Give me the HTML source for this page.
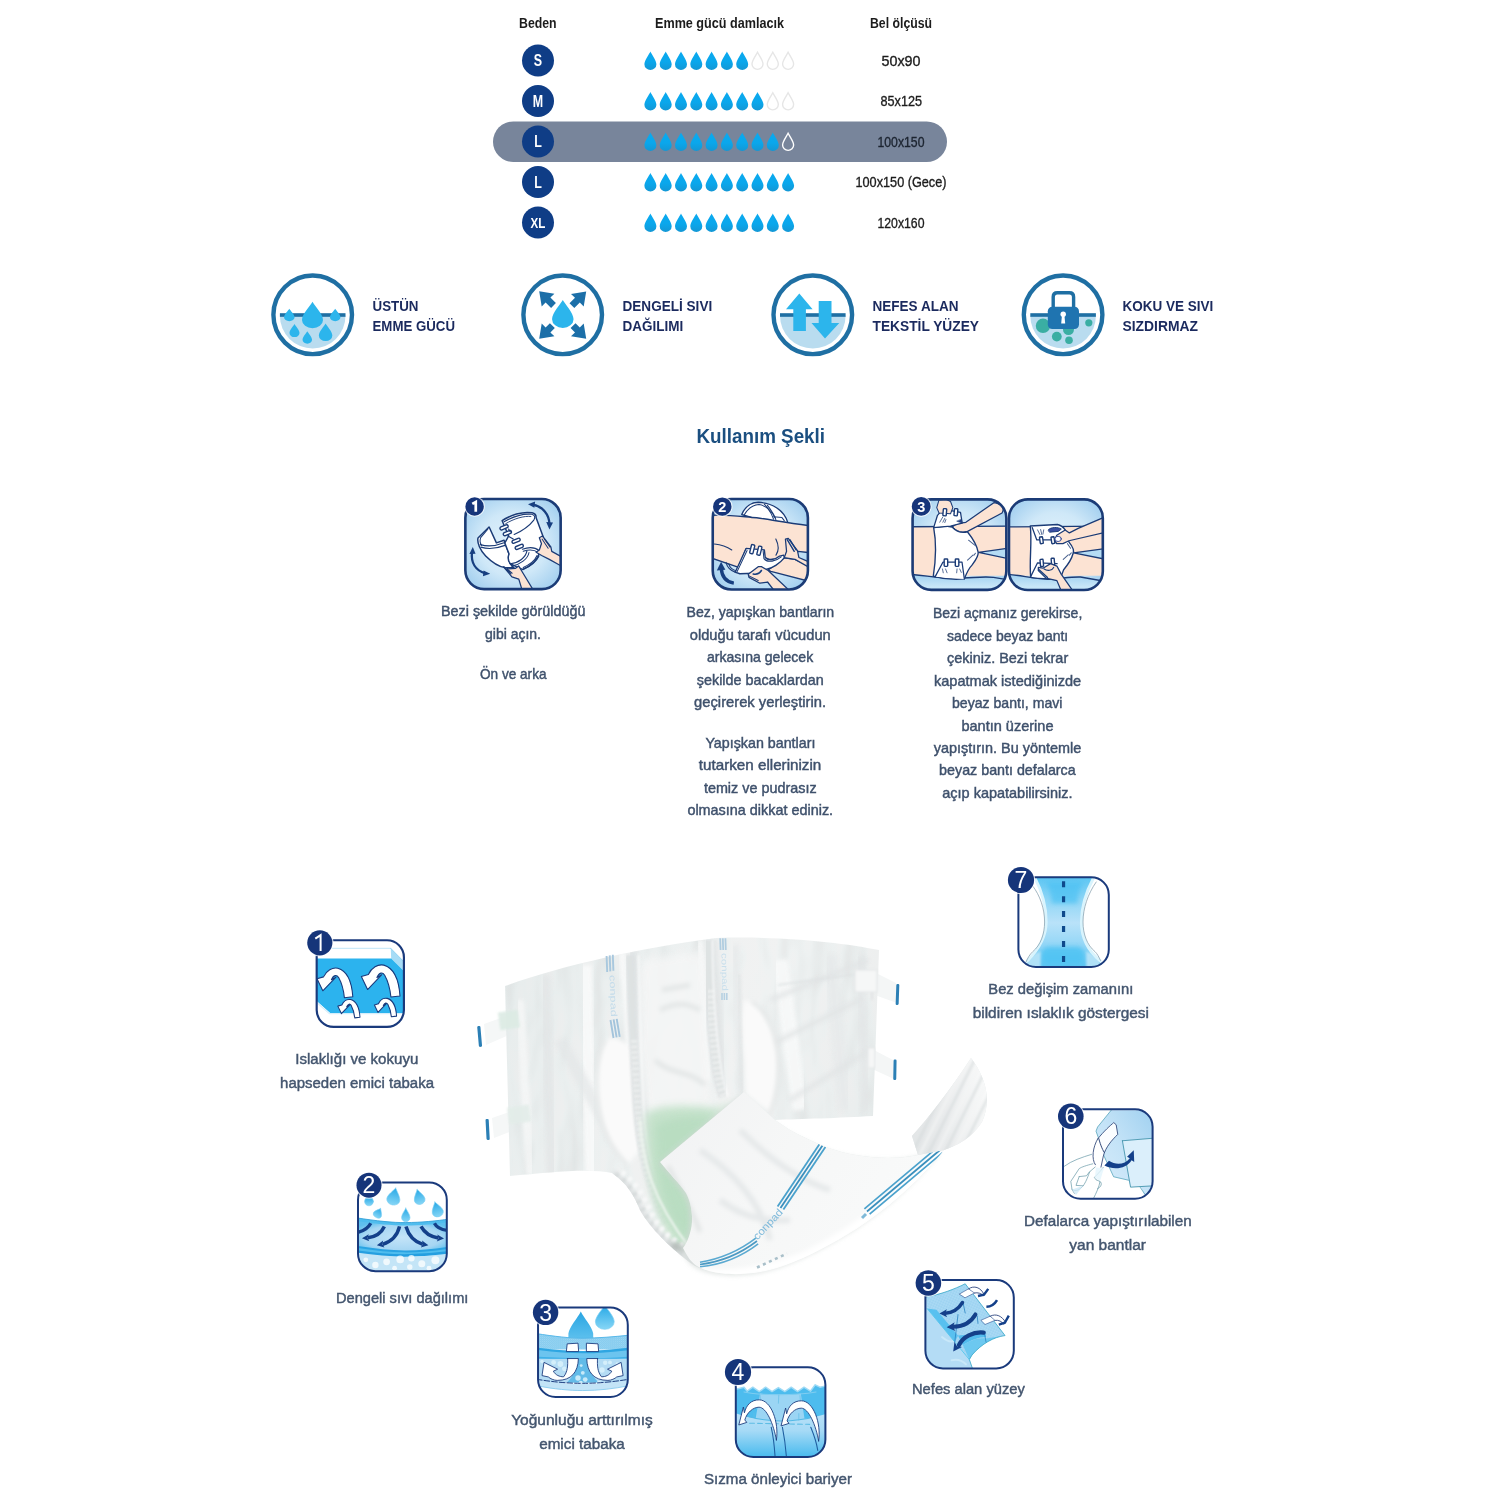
<!DOCTYPE html>
<html><head><meta charset="utf-8"><title>Conpad</title>
<style>
html,body{margin:0;padding:0;background:#fff;}
body{width:1500px;height:1500px;overflow:hidden;font-family:"Liberation Sans", sans-serif;}
svg{display:block;font-family:"Liberation Sans", sans-serif;}
svg text{font-family:"Liberation Sans", sans-serif;}
</style></head>
<body>
<svg width="1500" height="1500" viewBox="0 0 1500 1500">
<rect width="1500" height="1500" fill="#ffffff"/>
<defs>
<path id="drop" d="M0 -9.2 C-1.2 -6.6 -6 -0.2 -6 3.4 A6 5.9 0 0 0 6 3.4 C6 -0.2 1.2 -6.6 0 -9.2 Z"/>
<path id="udrop" d="M0 -1 C-0.1 -0.75 -0.62 -0.08 -0.62 0.36 A0.62 0.62 0 0 0 0.62 0.36 C0.62 -0.08 0.1 -0.75 0 -1 Z"/>
<radialGradient id="boxbg" cx="50%" cy="50%" r="65%">
 <stop offset="0" stop-color="#e4f3fc"/><stop offset="0.55" stop-color="#cfe8f8"/><stop offset="1" stop-color="#9fcdee"/>
</radialGradient>
</defs>
<defs><linearGradient id="dropfill" x1="0" y1="0" x2="0" y2="1"><stop offset="0" stop-color="#0aa9ef"/><stop offset="0.55" stop-color="#0aa7ec"/><stop offset="1" stop-color="#1497d4"/></linearGradient></defs>
<g id="table">
<text x="519.0" y="27.6" font-size="14" font-weight="bold" fill="#1c1c1c" textLength="37.6" lengthAdjust="spacingAndGlyphs" >Beden</text>
<text x="655.0" y="27.6" font-size="14" font-weight="bold" fill="#1c1c1c" textLength="129.0" lengthAdjust="spacingAndGlyphs" >Emme gücü damlacık</text>
<text x="870.0" y="27.6" font-size="14" font-weight="bold" fill="#1c1c1c" textLength="62.0" lengthAdjust="spacingAndGlyphs" >Bel ölçüsü</text>
<rect x="493" y="121.4" width="454" height="40.6" rx="20.3" fill="#78859b"/>
<circle cx="538" cy="60.5" r="16" fill="#0f3d86"/>
<text transform="translate(538 66.0) scale(0.86 1.08)" font-size="14.5" font-weight="bold" fill="#fff" text-anchor="middle">S</text>
<use href="#drop" x="650.4" y="60.8" fill="url(#dropfill)"/>
<use href="#drop" x="665.7" y="60.8" fill="url(#dropfill)"/>
<use href="#drop" x="681.0" y="60.8" fill="url(#dropfill)"/>
<use href="#drop" x="696.3" y="60.8" fill="url(#dropfill)"/>
<use href="#drop" x="711.6" y="60.8" fill="url(#dropfill)"/>
<use href="#drop" x="726.9" y="60.8" fill="url(#dropfill)"/>
<use href="#drop" x="742.2" y="60.8" fill="url(#dropfill)"/>
<use href="#drop" x="757.5" y="60.8" fill="none" stroke="#e6e6e6" stroke-width="1.5" transform="translate(60.60 4.86) scale(0.92)"/>
<use href="#drop" x="772.8" y="60.8" fill="none" stroke="#e6e6e6" stroke-width="1.5" transform="translate(61.82 4.86) scale(0.92)"/>
<use href="#drop" x="788.1" y="60.8" fill="none" stroke="#e6e6e6" stroke-width="1.5" transform="translate(63.05 4.86) scale(0.92)"/>
<text x="881.5" y="65.8" font-size="14.5" font-weight="normal" fill="#1c1c1c" textLength="39.0" lengthAdjust="spacingAndGlyphs" stroke="#1c1c1c" stroke-width="0.35">50x90</text>
<circle cx="538" cy="101" r="16" fill="#0f3d86"/>
<text transform="translate(538 106.5) scale(0.86 1.08)" font-size="14.5" font-weight="bold" fill="#fff" text-anchor="middle">M</text>
<use href="#drop" x="650.4" y="101.3" fill="url(#dropfill)"/>
<use href="#drop" x="665.7" y="101.3" fill="url(#dropfill)"/>
<use href="#drop" x="681.0" y="101.3" fill="url(#dropfill)"/>
<use href="#drop" x="696.3" y="101.3" fill="url(#dropfill)"/>
<use href="#drop" x="711.6" y="101.3" fill="url(#dropfill)"/>
<use href="#drop" x="726.9" y="101.3" fill="url(#dropfill)"/>
<use href="#drop" x="742.2" y="101.3" fill="url(#dropfill)"/>
<use href="#drop" x="757.5" y="101.3" fill="url(#dropfill)"/>
<use href="#drop" x="772.8" y="101.3" fill="none" stroke="#e6e6e6" stroke-width="1.5" transform="translate(61.82 8.10) scale(0.92)"/>
<use href="#drop" x="788.1" y="101.3" fill="none" stroke="#e6e6e6" stroke-width="1.5" transform="translate(63.05 8.10) scale(0.92)"/>
<text x="880.5" y="106.3" font-size="14.5" font-weight="normal" fill="#1c1c1c" textLength="41.5" lengthAdjust="spacingAndGlyphs" stroke="#1c1c1c" stroke-width="0.35">85x125</text>
<circle cx="538" cy="141.5" r="16" fill="#0f3d86"/>
<text transform="translate(538 147.0) scale(0.86 1.08)" font-size="14.5" font-weight="bold" fill="#fff" text-anchor="middle">L</text>
<use href="#drop" x="650.4" y="141.8" fill="url(#dropfill)"/>
<use href="#drop" x="665.7" y="141.8" fill="url(#dropfill)"/>
<use href="#drop" x="681.0" y="141.8" fill="url(#dropfill)"/>
<use href="#drop" x="696.3" y="141.8" fill="url(#dropfill)"/>
<use href="#drop" x="711.6" y="141.8" fill="url(#dropfill)"/>
<use href="#drop" x="726.9" y="141.8" fill="url(#dropfill)"/>
<use href="#drop" x="742.2" y="141.8" fill="url(#dropfill)"/>
<use href="#drop" x="757.5" y="141.8" fill="url(#dropfill)"/>
<use href="#drop" x="772.8" y="141.8" fill="url(#dropfill)"/>
<use href="#drop" x="788.1" y="141.8" fill="none" stroke="#ffffff" stroke-width="1.5" transform="translate(63.05 11.34) scale(0.92)"/>
<text x="877.5" y="146.8" font-size="14.5" font-weight="normal" fill="#1c2430" textLength="47.0" lengthAdjust="spacingAndGlyphs" stroke="#1c2430" stroke-width="0.35">100x150</text>
<circle cx="538" cy="182" r="16" fill="#0f3d86"/>
<text transform="translate(538 187.5) scale(0.86 1.08)" font-size="14.5" font-weight="bold" fill="#fff" text-anchor="middle">L</text>
<use href="#drop" x="650.4" y="182.3" fill="url(#dropfill)"/>
<use href="#drop" x="665.7" y="182.3" fill="url(#dropfill)"/>
<use href="#drop" x="681.0" y="182.3" fill="url(#dropfill)"/>
<use href="#drop" x="696.3" y="182.3" fill="url(#dropfill)"/>
<use href="#drop" x="711.6" y="182.3" fill="url(#dropfill)"/>
<use href="#drop" x="726.9" y="182.3" fill="url(#dropfill)"/>
<use href="#drop" x="742.2" y="182.3" fill="url(#dropfill)"/>
<use href="#drop" x="757.5" y="182.3" fill="url(#dropfill)"/>
<use href="#drop" x="772.8" y="182.3" fill="url(#dropfill)"/>
<use href="#drop" x="788.1" y="182.3" fill="url(#dropfill)"/>
<text x="855.5" y="187.3" font-size="14.5" font-weight="normal" fill="#1c1c1c" textLength="91.0" lengthAdjust="spacingAndGlyphs" stroke="#1c1c1c" stroke-width="0.35">100x150 (Gece)</text>
<circle cx="538" cy="222.5" r="16" fill="#0f3d86"/>
<text transform="translate(538 228.0) scale(0.86 1.08)" font-size="13.5" font-weight="bold" fill="#fff" text-anchor="middle">XL</text>
<use href="#drop" x="650.4" y="222.8" fill="url(#dropfill)"/>
<use href="#drop" x="665.7" y="222.8" fill="url(#dropfill)"/>
<use href="#drop" x="681.0" y="222.8" fill="url(#dropfill)"/>
<use href="#drop" x="696.3" y="222.8" fill="url(#dropfill)"/>
<use href="#drop" x="711.6" y="222.8" fill="url(#dropfill)"/>
<use href="#drop" x="726.9" y="222.8" fill="url(#dropfill)"/>
<use href="#drop" x="742.2" y="222.8" fill="url(#dropfill)"/>
<use href="#drop" x="757.5" y="222.8" fill="url(#dropfill)"/>
<use href="#drop" x="772.8" y="222.8" fill="url(#dropfill)"/>
<use href="#drop" x="788.1" y="222.8" fill="url(#dropfill)"/>
<text x="877.5" y="227.8" font-size="14.5" font-weight="normal" fill="#1c1c1c" textLength="47.0" lengthAdjust="spacingAndGlyphs" stroke="#1c1c1c" stroke-width="0.35">120x160</text>
</g>
<g id="features">
<circle cx="312.7" cy="314.8" r="39.3" fill="#fff" stroke="#1f6fa3" stroke-width="4.4"/>
<path d="M279.9 315.8 A32.8 32.8 0 0 0 345.5 315.8 Z" fill="#b9dcef"/><rect x="279.9" y="313.2" width="65.6" height="3.6" fill="#1f6fa3"/>
<use href="#udrop" transform="translate(289.30 315.06) scale(8.468 6.313)" fill="#2cb5ec"/>
<use href="#udrop" transform="translate(335.20 315.06) scale(8.468 6.313)" fill="#2cb5ec"/>
<use href="#udrop" transform="translate(312.50 315.13) scale(16.935 13.384)" fill="#2cb5ec"/>
<use href="#udrop" transform="translate(294.50 330.67) scale(8.065 6.566)" fill="#2cb5ec"/>
<use href="#udrop" transform="translate(307.30 337.56) scale(7.661 6.313)" fill="#2cb5ec"/>
<use href="#udrop" transform="translate(325.60 332.39) scale(10.887 8.838)" fill="#2cb5ec"/>
<text x="372.5" y="311.2" font-size="14.6" font-weight="bold" fill="#1b2a5e" textLength="46.0" lengthAdjust="spacingAndGlyphs" >ÜSTÜN</text>
<text x="372.5" y="330.8" font-size="14.6" font-weight="bold" fill="#1b2a5e" textLength="82.5" lengthAdjust="spacingAndGlyphs" >EMME GÜCÜ</text>
<circle cx="562.7" cy="314.8" r="39.3" fill="#fff" stroke="#1f6fa3" stroke-width="4.4"/>
<use href="#udrop" transform="translate(562.80 314.14) scale(17.339 14.040)" fill="#2cb5ec"/>
<polygon points="539.2,291.2 554.4,293.7 550.4,297.6 555.9,303.1 551.1,307.9 545.6,302.4 541.7,306.4" fill="#1c6fa8"/>
<polygon points="586.2,291.4 583.7,306.6 579.8,302.6 574.3,308.1 569.5,303.3 575.0,297.8 571.0,293.9" fill="#1c6fa8"/>
<polygon points="539.2,338.8 541.7,323.6 545.6,327.6 549.9,323.2 554.8,328.1 550.4,332.4 554.4,336.3" fill="#1c6fa8"/>
<polygon points="586.2,338.8 571.0,336.3 575.0,332.4 570.6,328.1 575.5,323.2 579.8,327.6 583.7,323.6" fill="#1c6fa8"/>
<text x="622.5" y="311.2" font-size="14.6" font-weight="bold" fill="#1b2a5e" textLength="89.7" lengthAdjust="spacingAndGlyphs" >DENGELİ SIVI</text>
<text x="622.5" y="330.8" font-size="14.6" font-weight="bold" fill="#1b2a5e" textLength="60.8" lengthAdjust="spacingAndGlyphs" >DAĞILIMI</text>
<circle cx="812.8" cy="314.8" r="39.3" fill="#fff" stroke="#1f6fa3" stroke-width="4.4"/>
<path d="M780.0 315.8 A32.8 32.8 0 0 0 845.5999999999999 315.8 Z" fill="#b9dcef"/><rect x="780.0" y="313.2" width="65.6" height="3.6" fill="#1f6fa3"/>
<polygon points="799.3,293.4 812.6,309.2 805.9,309.2 805.9,330.9 793.3,330.9 793.3,309.2 786,309.2" fill="#2cb5ec"/>
<polygon points="818.7,301 831.5,301 831.5,323 839.3,323 825,338.6 811.5,323 818.7,323" fill="#2cb5ec"/>
<text x="872.5" y="311.2" font-size="14.6" font-weight="bold" fill="#1b2a5e" textLength="86.0" lengthAdjust="spacingAndGlyphs" >NEFES ALAN</text>
<text x="872.5" y="330.8" font-size="14.6" font-weight="bold" fill="#1b2a5e" textLength="106.5" lengthAdjust="spacingAndGlyphs" >TEKSTİL YÜZEY</text>
<circle cx="1063.1" cy="314.8" r="39.3" fill="#fff" stroke="#1f6fa3" stroke-width="4.4"/>
<path d="M1030.3 315.8 A32.8 32.8 0 0 0 1095.8999999999999 315.8 Z" fill="#b9dcef"/><rect x="1030.3" y="313.2" width="65.6" height="3.6" fill="#1f6fa3"/>
<circle cx="1043" cy="325.8" r="7.2" fill="#3aaea3"/>
<circle cx="1068.5" cy="329.5" r="5.5" fill="#3aaea3"/>
<circle cx="1056.8" cy="336.6" r="4.9" fill="#3aaea3"/>
<circle cx="1069" cy="340.2" r="3.8" fill="#3aaea3"/>
<circle cx="1088.8" cy="322.8" r="3.6" fill="#3aaea3"/>
<path d="M1053.2 308 V297 Q1053.2 292.8 1057.4 292.8 H1069.4 Q1073.6 292.8 1073.6 297 V308" fill="none" stroke="#1f6fa3" stroke-width="3.4"/>
<rect x="1047.8" y="306.8" width="31.2" height="22.2" rx="4.5" fill="#1f74b0"/>
<circle cx="1063.2" cy="314.2" r="2.7" fill="#fff"/>
<path d="M1062 315 L1061.2 323.6 H1065.2 L1064.4 315 Z" fill="#fff"/>
<text x="1122.5" y="311.2" font-size="14.6" font-weight="bold" fill="#1b2a5e" textLength="90.8" lengthAdjust="spacingAndGlyphs" >KOKU VE SIVI</text>
<text x="1122.5" y="330.8" font-size="14.6" font-weight="bold" fill="#1b2a5e" textLength="75.5" lengthAdjust="spacingAndGlyphs" >SIZDIRMAZ</text>
</g>
<g id="usage">
<text x="696.5" y="443.3" font-size="21" font-weight="bold" fill="#1b4f80" textLength="128.5" lengthAdjust="spacingAndGlyphs" >Kullanım Şekli</text>
<text x="441.0" y="616.4" font-size="15" font-weight="normal" fill="#3f516c" textLength="144.5" lengthAdjust="spacingAndGlyphs" stroke="#3f516c" stroke-width="0.45">Bezi şekilde görüldüğü</text>
<text x="485.0" y="639.0" font-size="15" font-weight="normal" fill="#3f516c" textLength="56.0" lengthAdjust="spacingAndGlyphs" stroke="#3f516c" stroke-width="0.45">gibi açın.</text>
<text x="480.0" y="679.3" font-size="15" font-weight="normal" fill="#3f516c" textLength="66.5" lengthAdjust="spacingAndGlyphs" stroke="#3f516c" stroke-width="0.45">Ön ve arka</text>
<text x="686.6" y="616.9" font-size="15" font-weight="normal" fill="#3f516c" textLength="147.6" lengthAdjust="spacingAndGlyphs" stroke="#3f516c" stroke-width="0.45">Bez, yapışkan bantların</text>
<text x="689.8" y="639.6" font-size="15" font-weight="normal" fill="#3f516c" textLength="140.9" lengthAdjust="spacingAndGlyphs" stroke="#3f516c" stroke-width="0.45">olduğu tarafı vücudun</text>
<text x="707.0" y="662.1" font-size="15" font-weight="normal" fill="#3f516c" textLength="106.2" lengthAdjust="spacingAndGlyphs" stroke="#3f516c" stroke-width="0.45">arkasına gelecek</text>
<text x="696.8" y="684.7" font-size="15" font-weight="normal" fill="#3f516c" textLength="126.9" lengthAdjust="spacingAndGlyphs" stroke="#3f516c" stroke-width="0.45">şekilde bacaklardan</text>
<text x="694.1" y="707.2" font-size="15" font-weight="normal" fill="#3f516c" textLength="131.9" lengthAdjust="spacingAndGlyphs" stroke="#3f516c" stroke-width="0.45">geçirerek yerleştirin.</text>
<text x="705.4" y="747.7" font-size="15" font-weight="normal" fill="#3f516c" textLength="110.0" lengthAdjust="spacingAndGlyphs" stroke="#3f516c" stroke-width="0.45">Yapışkan bantları</text>
<text x="698.8" y="770.3" font-size="15" font-weight="normal" fill="#3f516c" textLength="122.5" lengthAdjust="spacingAndGlyphs" stroke="#3f516c" stroke-width="0.45">tutarken ellerinizin</text>
<text x="703.9" y="792.8" font-size="15" font-weight="normal" fill="#3f516c" textLength="112.7" lengthAdjust="spacingAndGlyphs" stroke="#3f516c" stroke-width="0.45">temiz ve pudrasız</text>
<text x="687.4" y="815.2" font-size="15" font-weight="normal" fill="#3f516c" textLength="145.7" lengthAdjust="spacingAndGlyphs" stroke="#3f516c" stroke-width="0.45">olmasına dikkat ediniz.</text>
<text x="932.9" y="618.2" font-size="15" font-weight="normal" fill="#3f516c" textLength="149.4" lengthAdjust="spacingAndGlyphs" stroke="#3f516c" stroke-width="0.45">Bezi açmanız gerekirse,</text>
<text x="947.0" y="640.7" font-size="15" font-weight="normal" fill="#3f516c" textLength="121.2" lengthAdjust="spacingAndGlyphs" stroke="#3f516c" stroke-width="0.45">sadece beyaz bantı</text>
<text x="947.0" y="663.3" font-size="15" font-weight="normal" fill="#3f516c" textLength="121.2" lengthAdjust="spacingAndGlyphs" stroke="#3f516c" stroke-width="0.45">çekiniz. Bezi tekrar</text>
<text x="934.0" y="685.8" font-size="15" font-weight="normal" fill="#3f516c" textLength="147.2" lengthAdjust="spacingAndGlyphs" stroke="#3f516c" stroke-width="0.45">kapatmak istediğinizde</text>
<text x="952.0" y="708.2" font-size="15" font-weight="normal" fill="#3f516c" textLength="110.4" lengthAdjust="spacingAndGlyphs" stroke="#3f516c" stroke-width="0.45">beyaz bantı, mavi</text>
<text x="961.4" y="730.6" font-size="15" font-weight="normal" fill="#3f516c" textLength="92.1" lengthAdjust="spacingAndGlyphs" stroke="#3f516c" stroke-width="0.45">bantın üzerine</text>
<text x="933.7" y="753.0" font-size="15" font-weight="normal" fill="#3f516c" textLength="147.5" lengthAdjust="spacingAndGlyphs" stroke="#3f516c" stroke-width="0.45">yapıştırın. Bu yöntemle</text>
<text x="939.1" y="775.4" font-size="15" font-weight="normal" fill="#3f516c" textLength="136.6" lengthAdjust="spacingAndGlyphs" stroke="#3f516c" stroke-width="0.45">beyaz bantı defalarca</text>
<text x="942.3" y="797.8" font-size="15" font-weight="normal" fill="#3f516c" textLength="130.3" lengthAdjust="spacingAndGlyphs" stroke="#3f516c" stroke-width="0.45">açıp kapatabilirsiniz.</text>
</g>
<g id="steps">
<g transform="translate(455 490) scale(0.07667)"><clipPath id="cp1"><rect x="135.0" y="117.0" width="1243.0" height="1176.0" rx="245.0"/></clipPath><rect x="135.0" y="117.0" width="1243.0" height="1176.0" rx="245.0" fill="url(#boxbg)"/><g clip-path="url(#cp1)" stroke-linejoin="round" stroke-linecap="round"><path d="M445 482 L300 625 C285 690 330 790 400 860 C480 940 580 1000 650 1012 L770 1015 C700 960 690 900 705 835 L640 655 L540 690 Z" fill="#fff" stroke="#1b3b76" stroke-width="19.5" /><path d="M428 512 L335 622 C322 660 330 700 346 722" fill="none" stroke="#1b3b76" stroke-width="13.5" /><path d="M330 712 C430 742 530 732 640 688" fill="none" stroke="#1b3b76" stroke-width="15.0" /><path d="M338 745 C430 775 540 765 652 722" fill="none" stroke="#1b3b76" stroke-width="15.0" /><path d="M615 400 C720 330 880 275 1005 298 C1045 308 1060 335 1058 362 L1150 610 L1112 800 C1080 900 1000 990 880 1035 L800 1000 L720 960 C690 920 690 870 705 835 L650 690 L700 600 Z" fill="#fff" stroke="#1b3b76" stroke-width="19.5" /><path d="M640 415 C760 345 900 305 1000 316 C1045 324 1048 360 1028 392 C960 480 850 545 772 580" fill="none" stroke="#1b3b76" stroke-width="15.0" /><path d="M660 440 C770 372 900 335 990 345" fill="none" stroke="#1b3b76" stroke-width="12.0" /><path d="M880 772 C960 742 1040 742 1100 792" fill="none" stroke="#1b3b76" stroke-width="15.0" /><path d="M890 800 C960 775 1030 775 1085 815" fill="none" stroke="#1b3b76" stroke-width="13.5" /><path d="M722 962 C830 950 925 880 938 795" fill="none" stroke="#1b3b76" stroke-width="15.0" /><path d="M745 990 C850 975 950 900 965 815" fill="none" stroke="#1b3b76" stroke-width="13.5" /><path d="M885 1040 C960 1005 1060 940 1095 860" fill="none" stroke="#1b3b76" stroke-width="15.0" /><path d="M890 1010 C950 985 1040 925 1070 855" fill="none" stroke="#1b3b76" stroke-width="13.5" /><rect x="-56.0" y="-20.0" width="112" height="40" rx="20.0" fill="#fff" stroke="#1b3b76" stroke-width="18.2" transform="translate(640 487) rotate(-22)"/><rect x="-56.0" y="-20.0" width="112" height="40" rx="20.0" fill="#fff" stroke="#1b3b76" stroke-width="18.2" transform="translate(683 562) rotate(-22)"/><rect x="-56.0" y="-20.0" width="112" height="40" rx="20.0" fill="#fff" stroke="#1b3b76" stroke-width="18.2" transform="translate(797 662) rotate(-22)"/><rect x="-56.0" y="-20.0" width="112" height="40" rx="20.0" fill="#fff" stroke="#1b3b76" stroke-width="18.2" transform="translate(838 742) rotate(-22)"/><path d="M690 600 L760 640 M700 510 L720 545" fill="none" stroke="#1b3b76" stroke-width="15.0" /><path d="M1100 622 L1140 600 L1250 742 L1262 800 L1420 890 L1420 1010 L1230 905 L1130 855 L1058 812 L1100 782 L1128 700 Z" fill="#fce3d3" stroke="#1b3b76" stroke-width="16.5" /><path d="M1135 640 L1215 760 M1165 640 L1240 745" fill="none" stroke="#1b3b76" stroke-width="13.5" /><path d="M632 1002 L700 1030 L790 1022 L830 990 L872 1060 L1030 1320 L880 1320 L832 1162 L742 1132 L700 1082 Z" fill="#fce3d3" stroke="#1b3b76" stroke-width="16.5" /><path d="M650 1015 L730 1095 M680 1030 L745 1085" fill="none" stroke="#1b3b76" stroke-width="13.5" /><path d="M1010 192 C1150 215 1225 320 1232 440" fill="none" stroke="#173f80" stroke-width="30" stroke-linecap="butt"/><polygon points="952,186 1045,150 1035,232" fill="#173f80"/><polygon points="1232,515 1190,418 1278,425" fill="#173f80"/><path d="M222 810 C205 950 270 1050 395 1088" fill="none" stroke="#173f80" stroke-width="30" stroke-linecap="butt"/><polygon points="232,742 188,835 268,832" fill="#173f80"/><polygon points="460,1092 372,1050 365,1125" fill="#173f80"/></g><rect x="135.0" y="117.0" width="1243.0" height="1176.0" rx="245.0" fill="none" stroke="#1b3b76" stroke-width="34"/></g>
<circle cx="474.6" cy="506.5" r="10.299999999999999" fill="#ffffff" opacity="0.75"/><circle cx="474.6" cy="506.5" r="9.2" fill="#16357a"/><path d="M472.28 503.90 L475.77 501.98 L475.77 511.69" fill="none" stroke="#fff" stroke-width="2.7" stroke-linejoin="miter" stroke-miterlimit="6"/>
<g transform="translate(703 490) scale(0.07667)"><clipPath id="cp2"><rect x="127.0" y="117.0" width="1241.0" height="1181.0" rx="245.0"/></clipPath><rect x="127.0" y="117.0" width="1241.0" height="1181.0" rx="245.0" fill="url(#boxbg)"/><g clip-path="url(#cp2)" stroke-linejoin="round" stroke-linecap="round"><path d="M505 320 C550 210 640 162 720 160 C900 168 1060 260 1108 430 L700 380 Z" fill="#fff" stroke="#1b3b76" stroke-width="18.0" /><path d="M540 320 C590 235 660 195 730 190 C810 200 880 250 940 360" fill="none" stroke="#1b3b76" stroke-width="13.5" /><path d="M800 185 C860 250 900 320 920 380 M840 200 C890 260 930 330 950 385" fill="none" stroke="#1b3b76" stroke-width="13.5" /><path d="M920 350 L1030 360 L1060 400" fill="none" stroke="#1b3b76" stroke-width="13.5" /><path d="M60 332 C330 315 520 350 700 362 C900 390 1150 440 1420 468 L1420 820 L1240 800 L1100 900 L860 905 L560 770 L465 1010 L60 870 Z" fill="#fce3d3" stroke="#1b3b76" stroke-width="18.0" /><path d="M150 705 C250 715 320 745 375 782" fill="none" stroke="#1b3b76" stroke-width="15.0" /><path d="M950 640 C990 720 985 800 952 850" fill="none" stroke="#1b3b76" stroke-width="15.0" /><path d="M850 1045 L1060 885 L1200 905 L1420 1010 L1420 1200 L885 1062 Z" fill="#fce3d3" stroke="#1b3b76" stroke-width="16.5" /><path d="M300 945 C320 1030 380 1062 432 1078" fill="none" stroke="#1b3b76" stroke-width="15.0" /><path d="M335 965 C350 1020 395 1045 440 1058" fill="none" stroke="#1b3b76" stroke-width="13.5" /><path d="M562 762 L800 782 L812 882 C850 932 950 905 1000 862 L1052 850 L1062 882 C1000 962 900 1022 832 1032 L760 1082 L480 1092 L420 1072 Z" fill="#fff" stroke="#1b3b76" stroke-width="18.0" /><path d="M575 790 L445 1065" fill="none" stroke="#1b3b76" stroke-width="13.5" /><path d="M785 800 L795 895 C840 960 960 925 1020 872" fill="none" stroke="#1b3b76" stroke-width="13.5" /><rect x="-22.0" y="-59.0" width="44" height="118" rx="12" fill="#fff" stroke="#1b3b76" stroke-width="18.2" transform="translate(642 772) rotate(14)"/><rect x="-22.0" y="-59.0" width="44" height="118" rx="12" fill="#fff" stroke="#1b3b76" stroke-width="18.2" transform="translate(735 792) rotate(14)"/><path d="M1075 642 L1112 630 L1232 790 L1250 880 L1420 955 L1420 1030 L1200 905 L1060 882 L1090 800 Z" fill="#fce3d3" stroke="#1b3b76" stroke-width="16.5" /><path d="M1100 650 L1190 800 M1135 650 L1215 780" fill="none" stroke="#173f80" stroke-width="18.0" /><path d="M590 1100 L720 1000 L762 1000 L850 1050 L1135 1320 L935 1320 L842 1200 L742 1216 L600 1140 Z" fill="#fce3d3" stroke="#1b3b76" stroke-width="16.5" /><path d="M600 1120 L720 1180" fill="none" stroke="#1b3b76" stroke-width="13.5" /><path d="M655 1095 C700 1105 740 1085 762 1050" fill="none" stroke="#173f80" stroke-width="21.0" /><path d="M402 1215 C300 1200 245 1130 238 1020" fill="none" stroke="#173f80" stroke-width="44" stroke-linecap="butt"/><polygon points="236,935 180,1050 292,1040" fill="#173f80"/></g><rect x="127.0" y="117.0" width="1241.0" height="1181.0" rx="245.0" fill="none" stroke="#1b3b76" stroke-width="34"/></g>
<circle cx="722.3" cy="506.6" r="10.299999999999999" fill="#ffffff" opacity="0.75"/><circle cx="722.3" cy="506.6" r="9.2" fill="#16357a"/><text transform="translate(722.3 511.8) scale(1.0 1)" font-size="14.5" font-weight="bold" fill="#fff" text-anchor="middle">2</text>
<defs><linearGradient id="matg" x1="0" y1="0" x2="0" y2="1"><stop offset="0" stop-color="#9fd0f0"/><stop offset="0.55" stop-color="#c9e7f8"/><stop offset="1" stop-color="#a6d3f1"/></linearGradient></defs>
<g transform="translate(903 490) scale(0.07667)"><clipPath id="cp3"><rect x="125.0" y="122.0" width="1223.0" height="1181.0" rx="245.0"/></clipPath><rect x="125.0" y="122.0" width="1223.0" height="1181.0" rx="245.0" fill="url(#boxbg)"/><g clip-path="url(#cp3)" stroke-linejoin="round" stroke-linecap="round"><rect x="60" y="478" width="1400" height="640" fill="#fce3d3"/><path d="M60 480 L1420 470" fill="none" stroke="#1b3b76" stroke-width="18.0" /><path d="M60 1098 C300 1112 420 1150 700 1152 C900 1150 1050 1120 1180 1140 L1420 1180 L1420 1400 L60 1400 Z" fill="url(#matg)" stroke="#1b3b76" stroke-width="18.0" /><path d="M985 815 L1420 752 L1420 905 Z" fill="#b5dcf4" stroke="#1b3b76" stroke-width="16.5" /><path d="M1185 165 L820 422 L700 440 L640 482 C700 545 780 562 842 540 L1292 300 C1330 240 1290 180 1185 165 Z" fill="#fce3d3" stroke="#1b3b76" stroke-width="16.5" /><path d="M400 490 C440 700 430 900 395 1125 C520 1160 680 1170 800 1160 C830 1080 860 1020 900 980 C960 900 990 850 980 810 C960 700 900 620 840 545 C780 562 700 545 640 482 L560 470 Z" fill="#fff" stroke="#1b3b76" stroke-width="18.0" /><path d="M855 655 L935 720 M842 915 L912 850 M925 850 L945 825" fill="none" stroke="#4a628f" stroke-width="13.5" /><path d="M420 1130 L520 942 L770 942 L800 1160" fill="#fff" stroke="#1b3b76" stroke-width="16.5" /><rect x="-23.0" y="-48.0" width="46" height="96" rx="10" fill="#fff" stroke="#1b3b76" stroke-width="18.2" transform="translate(560 948) rotate(0)"/><rect x="-23.0" y="-48.0" width="46" height="96" rx="10" fill="#fff" stroke="#1b3b76" stroke-width="18.2" transform="translate(705 948) rotate(0)"/><path d="M515 1030 L525 1080 M555 1030 L575 1080 M705 1030 L700 1080 M740 1030 L760 1075" fill="none" stroke="#4a628f" stroke-width="12.0" /><path d="M400 490 L450 330 L520 250 L750 292 L772 432 L620 470 Z" fill="#fff" stroke="#1b3b76" stroke-width="16.5" /><path d="M470 130 L560 120 L620 150 L650 230 L620 310 L470 300 L440 230 Z" fill="#fce3d3" stroke="#1b3b76" stroke-width="13.5" /><rect x="-22.0" y="-46.0" width="44" height="92" rx="10" fill="#fff" stroke="#1b3b76" stroke-width="18.2" transform="translate(545 290) rotate(5)"/><rect x="-22.0" y="-46.0" width="44" height="92" rx="10" fill="#fff" stroke="#1b3b76" stroke-width="18.2" transform="translate(690 290) rotate(5)"/><path d="M480 420 L520 350 M520 420 L545 370 M545 425 L560 385" fill="none" stroke="#4a628f" stroke-width="12.0" /><path d="M705 408 L770 432 L762 385 Z" fill="#22408a" stroke="#1b3b76" stroke-width="7.5" /></g><rect x="125.0" y="122.0" width="1223.0" height="1181.0" rx="245.0" fill="none" stroke="#1b3b76" stroke-width="34"/></g>
<circle cx="921.2" cy="506.4" r="10.5" fill="#ffffff" opacity="0.75"/><circle cx="921.2" cy="506.4" r="9.4" fill="#16357a"/><text transform="translate(921.2 511.59999999999997) scale(1.0 1)" font-size="14.5" font-weight="bold" fill="#fff" text-anchor="middle">3</text>
<g transform="translate(1000 490) scale(0.07667)"><clipPath id="cp4"><rect x="117.0" y="122.0" width="1224.0" height="1183.0" rx="245.0"/></clipPath><rect x="117.0" y="122.0" width="1224.0" height="1183.0" rx="245.0" fill="url(#boxbg)"/><g clip-path="url(#cp4)" stroke-linejoin="round" stroke-linecap="round"><rect x="60" y="478" width="1400" height="640" fill="#fce3d3"/><path d="M60 482 L1420 470" fill="none" stroke="#1b3b76" stroke-width="18.0" /><path d="M60 1098 C250 1108 400 1150 620 1165 C800 1160 900 1130 1050 1135 L1420 1200 L1420 1400 L60 1400 Z" fill="url(#matg)" stroke="#1b3b76" stroke-width="18.0" /><path d="M960 820 L1420 758 L1420 912 Z" fill="#b5dcf4" stroke="#1b3b76" stroke-width="16.5" /><path d="M395 470 L750 450 C800 460 830 490 850 520 L900 680 C950 740 972 790 952 832 C930 920 880 980 830 1040 L800 1120 C680 1165 520 1160 400 1140 C380 900 420 700 395 470 Z" fill="#fff" stroke="#1b3b76" stroke-width="18.0" /><path d="M825 905 L890 845 M905 850 L930 820 M880 700 L920 760" fill="none" stroke="#4a628f" stroke-width="13.5" /><path d="M420 490 L480 652 L680 650" fill="none" stroke="#1b3b76" stroke-width="16.5" /><rect x="-20.0" y="-44.0" width="40" height="88" rx="8" fill="#fff" stroke="#1b3b76" stroke-width="18.2" transform="translate(540 655) rotate(-8)"/><rect x="-20.0" y="-44.0" width="40" height="88" rx="8" fill="#fff" stroke="#1b3b76" stroke-width="18.2" transform="translate(690 655) rotate(-8)"/><path d="M490 520 L520 580 M530 515 L545 580 M570 520 L560 575" fill="none" stroke="#4a628f" stroke-width="12.0" /><path d="M1420 330 L1020 500 L905 560 L850 522 L740 590 L712 660 L740 700 L820 700 L900 662 L1420 540 Z" fill="#fce3d3" stroke="#1b3b76" stroke-width="16.5" /><path d="M630 520 C660 480 760 480 800 510 L760 540 L650 550 Z" fill="#3b4fa3" stroke="#1b3b76" stroke-width="12.0" /><ellipse cx="758" cy="638" rx="42" ry="34" fill="#fff" stroke="#2a3f90" stroke-width="12"/><path d="M400 1130 L490 950 L745 960" fill="none" stroke="#1b3b76" stroke-width="16.5" /><rect x="-20.0" y="-46.0" width="40" height="92" rx="8" fill="#fff" stroke="#1b3b76" stroke-width="18.2" transform="translate(545 950) rotate(-5)"/><rect x="-20.0" y="-46.0" width="40" height="92" rx="8" fill="#fff" stroke="#1b3b76" stroke-width="18.2" transform="translate(690 935) rotate(-5)"/><path d="M500 1010 L560 1020 L660 960 L742 992 L800 1100 L960 1330 L805 1330 L742 1182 L600 1150 L500 1052 Z" fill="#fce3d3" stroke="#1b3b76" stroke-width="16.5" /><path d="M575 1030 C620 1060 680 1050 700 1010" fill="none" stroke="#1b3b76" stroke-width="15.0" /><path d="M510 1040 L620 1140" fill="none" stroke="#173f80" stroke-width="18.0" /></g><rect x="117.0" y="122.0" width="1224.0" height="1183.0" rx="245.0" fill="none" stroke="#1b3b76" stroke-width="34"/></g>
</g>
<defs>
<filter id="b1" x="-10%" y="-10%" width="120%" height="120%"><feGaussianBlur stdDeviation="1"/></filter>
<filter id="b2" x="-20%" y="-20%" width="140%" height="140%"><feGaussianBlur stdDeviation="2.2"/></filter>
<filter id="b4" x="-30%" y="-30%" width="160%" height="160%"><feGaussianBlur stdDeviation="4.5"/></filter>
<filter id="b8" x="-40%" y="-40%" width="180%" height="180%"><feGaussianBlur stdDeviation="8"/></filter>
<filter id="crk" x="0" y="0" width="100%" height="100%" color-interpolation-filters="sRGB">
 <feTurbulence type="fractalNoise" baseFrequency="0.02 0.009" numOctaves="3" seed="11" result="t"/>
 <feDiffuseLighting in="t" surfaceScale="5" diffuseConstant="1.0" lighting-color="#ffffff" result="l"><feDistantLight azimuth="200" elevation="62"/></feDiffuseLighting>
 <feColorMatrix in="l" type="matrix" values="0.24 0 0 0 0.775  0 0.24 0 0 0.785  0 0 0.24 0 0.785  0 0 0 1 0" result="m"/>
 <feComposite in="m" in2="SourceAlpha" operator="in"/>
</filter>
<linearGradient id="dpg" x1="0" y1="0" x2="1" y2="0.25">
 <stop offset="0" stop-color="#e9ecec"/><stop offset="0.3" stop-color="#eef0f0"/><stop offset="0.55" stop-color="#f1f2f2"/><stop offset="0.8" stop-color="#eceeee"/><stop offset="1" stop-color="#e7eaea"/>
</linearGradient>
<linearGradient id="flapg" x1="0" y1="0.6" x2="1" y2="0.4">
 <stop offset="0" stop-color="#e3e6e7"/><stop offset="0.4" stop-color="#e9ebec"/><stop offset="1" stop-color="#f8f9f9"/>
</linearGradient>
<linearGradient id="frontg" x1="0" y1="0" x2="1" y2="0.4">
 <stop offset="0" stop-color="#f1f2f3"/><stop offset="0.5" stop-color="#f6f7f7"/><stop offset="1" stop-color="#f9fafa"/>
</linearGradient>
</defs>
<g id="diaper">
<polygon points="520,1011 484,1024 486,1045 520,1030" fill="#f5f7f7"/>
<polygon points="530,1105 492,1118 494,1138 530,1124" fill="#f5f7f7"/>
<rect x="478" y="1026" width="3.2" height="21" rx="1.2" fill="#2b7fb5" transform="rotate(-5 479 1036)"/>
<rect x="486" y="1119" width="3.2" height="21" rx="1.2" fill="#2b7fb5" transform="rotate(-3 487 1129)"/>
<polygon points="872,971 896,983 897,1003 872,994" fill="#f4f6f6"/>
<polygon points="870,1048 893,1060 894,1079 870,1068" fill="#f4f6f6"/>
<rect x="896" y="984" width="3" height="21" rx="1.2" fill="#2b7fb5" transform="rotate(2 897 994)"/>
<rect x="893.4" y="1059.5" width="3" height="20.5" rx="1.2" fill="#2b7fb5" transform="rotate(1 894 1070)"/>
<path d="M505 986 C560 966 640 948 716 938 C780 936 840 942 879 950 L873 1116 C840 1118 800 1119 775 1120 L790 1130 C810 1141 830 1150 850 1154 C880 1160 905 1158 918 1155 L912 1136 C930 1116 950 1090 971 1058 C986 1078 992 1100 982 1122 C970 1140 955 1146 944 1150 C920 1180 882 1217 829 1245 C802 1260 777 1270 754 1273 C730 1276 708 1273 695 1266 C672 1250 650 1228 640 1210 C634 1196 628 1184 612 1173 C590 1168 550 1172 510 1176 Z" fill="url(#dpg)"/>
<path d="M505 986 C560 966 640 948 716 938 C780 936 840 942 879 950 L873 1116 C840 1118 800 1119 775 1120 L790 1130 C810 1141 830 1150 850 1154 C880 1160 905 1158 918 1155 L912 1136 C930 1116 950 1090 971 1058 C986 1078 992 1100 982 1122 C970 1140 955 1146 944 1150 C920 1180 882 1217 829 1245 C802 1260 777 1270 754 1273 C730 1276 708 1273 695 1266 C672 1250 650 1228 640 1210 C634 1196 628 1184 612 1173 C590 1168 550 1172 510 1176 Z" fill="#fff" filter="url(#crk)" style="mix-blend-mode:multiply" opacity="0.9"/>
<clipPath id="dclip"><path d="M505 986 C560 966 640 948 716 938 C780 936 840 942 879 950 L873 1116 C840 1118 800 1119 775 1120 L790 1130 C810 1141 830 1150 850 1154 C880 1160 905 1158 918 1155 L912 1136 C930 1116 950 1090 971 1058 C986 1078 992 1100 982 1122 C970 1140 955 1146 944 1150 C920 1180 882 1217 829 1245 C802 1260 777 1270 754 1273 C730 1276 708 1273 695 1266 C672 1250 650 1228 640 1210 C634 1196 628 1184 612 1173 C590 1168 550 1172 510 1176 Z"/></clipPath>
<g clip-path="url(#dclip)">
<line x1="545" y1="975" x2="552" y2="1180" stroke="#e2e5e6" stroke-width="10" opacity="0.8" filter="url(#b2)"/>
<line x1="585" y1="965" x2="592" y2="1175" stroke="#f9fafa" stroke-width="14" opacity="0.9" filter="url(#b2)"/>
<line x1="560" y1="1040" x2="620" y2="1150" stroke="#e3e6e7" stroke-width="12" opacity="0.7" filter="url(#b2)"/>
<line x1="520" y1="1000" x2="530" y2="1175" stroke="#f7f8f8" stroke-width="8" opacity="0.8" filter="url(#b2)"/>
<line x1="633" y1="950" x2="646" y2="1120" stroke="#e0e4e5" stroke-width="9" opacity="0.9" filter="url(#b2)"/>
<line x1="646" y1="1120" x2="668" y2="1215" stroke="#dfe3e4" stroke-width="9" opacity="0.9" filter="url(#b2)"/>
<line x1="622" y1="952" x2="634" y2="1120" stroke="#fafbfb" stroke-width="6" opacity="0.9" filter="url(#b2)"/>
<line x1="712" y1="940" x2="722" y2="1085" stroke="#e2e5e6" stroke-width="10" opacity="0.9" filter="url(#b2)"/>
<line x1="700" y1="940" x2="708" y2="1080" stroke="#fafbfb" stroke-width="6" opacity="0.9" filter="url(#b2)"/>
<line x1="735" y1="945" x2="742" y2="1090" stroke="#e6e9ea" stroke-width="7" opacity="0.8" filter="url(#b2)"/>
<line x1="780" y1="960" x2="800" y2="1110" stroke="#f8f9f9" stroke-width="16" opacity="0.9" filter="url(#b2)"/>
<line x1="830" y1="955" x2="845" y2="1110" stroke="#e6e9ea" stroke-width="14" opacity="0.7" filter="url(#b2)"/>
<line x1="860" y1="955" x2="866" y2="1112" stroke="#e3e6e7" stroke-width="8" opacity="0.8" filter="url(#b2)"/>
<path d="M770 1000 L868 960 M760 1050 L860 1000 M790 1100 L870 1050" stroke="#e1e4e5" stroke-width="5" opacity="0.8" filter="url(#b2)" fill="none"/>
<path d="M778 985 L872 972 L872 1000" stroke="#dfe3e4" stroke-width="2" opacity="0.8" filter="url(#b1)" fill="none"/>
<path d="M606 1040 C598 1052 595 1075 598 1100 C601 1130 612 1150 628 1165 L640 1150 L634 1050 C625 1040 614 1036 606 1040 Z" fill="#fafafa" filter="url(#b2)"/>
<path d="M606 1040 C598 1052 595 1075 598 1100 C601 1130 612 1150 628 1165" fill="none" stroke="#e3e6e6" stroke-width="2.5" filter="url(#b2)"/>
<path d="M744 1000 C760 1004 772 1022 777 1050 C780 1075 776 1095 770 1112 L746 1094 L742 1020 Z" fill="#fafafa" filter="url(#b2)"/>
<path d="M752 1002 C766 1010 775 1030 778 1054 C780 1078 776 1098 770 1114" fill="none" stroke="#e1e4e4" stroke-width="2.5" filter="url(#b2)"/>
<path d="M642 960 L704 950 L712 1085 L716 1108 L646 1112 L638 1050 Z" fill="#f5f6f6" opacity="0.85" filter="url(#b4)"/>
<path d="M660 1010 C680 1000 690 1005 700 1010 M655 1060 C670 1075 690 1070 705 1085 M662 990 L690 985" fill="none" stroke="#e4e7e7" stroke-width="5" filter="url(#b2)"/>
<path d="M630 955 C632 1010 634 1060 637 1105 C640 1150 650 1190 668 1222" fill="none" stroke="#dde1e2" stroke-width="9" filter="url(#b1)" opacity="0.9"/>
<path d="M634 1040 C636 1080 638 1110 641 1140 C645 1175 654 1200 668 1222" fill="none" stroke="#eef0f0" stroke-width="7" stroke-dasharray="2.5 3" filter="url(#b1)" opacity="0.9"/>
<path d="M638.5 955 C640 1010 641 1060 643.5 1105 C646 1150 656 1195 690 1246" fill="none" stroke="#fbfcfc" stroke-width="1.6" filter="url(#b1)"/>
<path d="M708 940 C708 990 712 1030 716 1060 C718 1075 720 1085 724 1096" fill="none" stroke="#dde1e2" stroke-width="11" filter="url(#b1)" opacity="0.9"/>
<path d="M710 990 C711 1020 714 1050 718 1075 C719 1082 721 1090 724 1096" fill="none" stroke="#eff1f1" stroke-width="8" stroke-dasharray="2.5 3" filter="url(#b1)" opacity="0.9"/>
<path d="M712.5 940 C712.5 990 716 1030 720 1060 C722 1075 724 1085 728 1096" fill="none" stroke="#fbfcfc" stroke-width="1.5" filter="url(#b1)"/>
<path d="M739 975 C740 1010 741 1050 742 1092" fill="none" stroke="#dfe3e3" stroke-width="3" stroke-dasharray="2 1.6" filter="url(#b1)" opacity="0.9"/>
<path d="M646 1113 C665 1104 690 1105 716 1109 L735 1102 L664 1160 L694 1200 L692 1244 L682 1250 C664 1236 652 1205 649 1170 C646 1150 645 1130 646 1113 Z" fill="#c6e3cc" filter="url(#b4)"/>
<path d="M655 1125 C675 1115 700 1115 720 1118 L672 1160 L695 1215 L690 1245 C670 1225 660 1195 657 1165 Z" fill="#b4dabd" opacity="0.7" filter="url(#b4)"/>
<path d="M612 1173 C628 1184 634 1196 640 1210 C650 1228 672 1250 695 1264" stroke="#dfe2e3" stroke-width="7" fill="none" filter="url(#b2)"/>
<path d="M640 1120 C642 1160 652 1200 690 1248" stroke="#eef5ef" stroke-width="2.2" fill="none" filter="url(#b1)"/>
<path d="M614 1176 C630 1187 636 1199 642 1212 C652 1230 668 1246 684 1254" stroke="#d5dada" stroke-width="9" stroke-dasharray="3.5 5" fill="none" filter="url(#b1)" opacity="0.85"/>
<path d="M622 1172 C638 1184 646 1200 652 1214 C660 1230 672 1240 684 1246" stroke="#f7f8f8" stroke-width="5" stroke-dasharray="4 4.5" fill="none" filter="url(#b1)"/>
<ellipse cx="677" cy="1247" rx="8" ry="4.5" fill="#aeb6b3" opacity="0.75" filter="url(#b2)" transform="rotate(20 677 1247)"/>
</g>
<path d="M744 1092 L660 1162 C668 1172 680 1184 686 1193 C692 1204 694 1220 690 1233 C688 1240 686 1244 683 1248 C688 1258 692 1263 697 1266 C708 1273 730 1276 754 1273 C777 1270 802 1260 829 1245 C882 1217 920 1180 944 1150 L918 1155 C905 1158 880 1160 850 1154 C830 1150 810 1141 790 1130 L775 1120 Z" fill="#cfd6d3" opacity="0.55" transform="translate(-2.5 1.5)" filter="url(#b2)"/>
<path d="M744 1092 L660 1162 C668 1172 680 1184 686 1193 C692 1204 694 1220 690 1233 C688 1240 686 1244 683 1248 C688 1258 692 1263 697 1266 C708 1273 730 1276 754 1273 C777 1270 802 1260 829 1245 C882 1217 920 1180 944 1150 L918 1155 C905 1158 880 1160 850 1154 C830 1150 810 1141 790 1130 L775 1120 Z" fill="url(#frontg)"/>
<clipPath id="fclip"><path d="M744 1092 L660 1162 C668 1172 680 1184 686 1193 C692 1204 694 1220 690 1233 C688 1240 686 1244 683 1248 C688 1258 692 1263 697 1266 C708 1273 730 1276 754 1273 C777 1270 802 1260 829 1245 C882 1217 920 1180 944 1150 L918 1155 C905 1158 880 1160 850 1154 C830 1150 810 1141 790 1130 L775 1120 Z"/></clipPath>
<g clip-path="url(#fclip)">
<path d="M700 1150 C730 1170 760 1200 770 1240 M740 1130 C770 1160 800 1180 830 1190 M720 1200 C740 1215 760 1222 790 1220" stroke="#e6e9ea" stroke-width="6" fill="none" filter="url(#b2)"/>
<path d="M700 1272 C725 1277 765 1272 805 1256 C865 1226 912 1186 942 1152" stroke="#ffffff" stroke-width="9" fill="none" filter="url(#b2)"/>
<path d="M668 1166 C680 1190 692 1210 700 1232" stroke="#e3e6e6" stroke-width="5" fill="none" filter="url(#b2)"/>
<path d="M819.6 1143.905 L777.6 1206.405" stroke="#4aa1cc" stroke-width="1.8" fill="none"/>
<path d="M937.39 1147.39 L864.39 1208.89" stroke="#4aa1cc" stroke-width="1.7" fill="none"/>
<path d="M755.84 1238.1 C738.84 1251.1 719.13 1259.1 700 1262.18" stroke="#4aa1cc" stroke-width="1.6" fill="none" opacity="0.9"/>
<path d="M822.5 1145.5 L780.5 1208.0" stroke="#3a8fbd" stroke-width="1.8" fill="none"/>
<path d="M940.0 1150.0 L867.0 1211.5" stroke="#3a8fbd" stroke-width="1.7" fill="none"/>
<path d="M757.0 1241.0 C740.0 1254.0 720.0 1262.0 700 1264.5" stroke="#3a8fbd" stroke-width="1.6" fill="none" opacity="0.9"/>
<path d="M825.4 1147.095 L783.4 1209.595" stroke="#4aa1cc" stroke-width="1.8" fill="none"/>
<path d="M942.61 1152.61 L869.61 1214.11" stroke="#4aa1cc" stroke-width="1.7" fill="none"/>
<path d="M758.16 1243.9 C741.16 1256.9 720.87 1264.9 700 1266.82" stroke="#4aa1cc" stroke-width="1.6" fill="none" opacity="0.9"/>
<text transform="translate(757.5 1240.5) rotate(-47)" font-size="10.5" fill="#7fbadb" font-weight="normal" textLength="38" lengthAdjust="spacingAndGlyphs">conpad</text>
<path d="M866 1214 L862 1218" stroke="#7fb9d8" stroke-width="3"/>
<path d="M757 1267.5 L787 1253.5" stroke="#a9bfc9" stroke-width="2.6" stroke-dasharray="3 3.6" fill="none"/>
</g>
<path d="M971 1058 C986 1078 992 1100 982 1122 C972 1138 958 1145 944 1150 L918 1155 L912 1136 C930 1116 950 1090 971 1058 Z" fill="url(#flapg)"/>
<clipPath id="rclip"><path d="M971 1058 C986 1078 992 1100 982 1122 C972 1138 958 1145 944 1150 L918 1155 L912 1136 C930 1116 950 1090 971 1058 Z"/></clipPath>
<g clip-path="url(#rclip)" filter="url(#b1)">
<line x1="961" y1="1055" x2="909" y2="1160" stroke="#d6dadc" stroke-width="3" opacity="0.6"/>
<line x1="969" y1="1055" x2="917" y2="1160" stroke="#f4f5f5" stroke-width="3" opacity="0.6"/>
<line x1="977" y1="1055" x2="925" y2="1160" stroke="#d6dadc" stroke-width="3" opacity="0.6"/>
<line x1="985" y1="1055" x2="933" y2="1160" stroke="#f4f5f5" stroke-width="3" opacity="0.6"/>
<line x1="993" y1="1055" x2="941" y2="1160" stroke="#d6dadc" stroke-width="3" opacity="0.6"/>
<line x1="1001" y1="1055" x2="949" y2="1160" stroke="#f4f5f5" stroke-width="3" opacity="0.6"/>
<line x1="1009" y1="1055" x2="957" y2="1160" stroke="#d6dadc" stroke-width="3" opacity="0.6"/>
<line x1="1017" y1="1055" x2="965" y2="1160" stroke="#f4f5f5" stroke-width="3" opacity="0.6"/>
</g>
<line x1="606.6" y1="956.0" x2="607.2" y2="972.0" stroke="#a9c8de" stroke-width="1.9"/>
<line x1="610.5" y1="1020.0" x2="613.5" y2="1038.0" stroke="#a3c4dc" stroke-width="1.9"/>
<line x1="720.2" y1="938.2" x2="720.6" y2="950" stroke="#b0cde0" stroke-width="1.8"/>
<line x1="722.0" y1="993" x2="722.0" y2="1000" stroke="#b7d1e2" stroke-width="1.6"/>
<line x1="609.7" y1="955.4" x2="610.3000000000001" y2="971.4" stroke="#a9c8de" stroke-width="1.9"/>
<line x1="613.6" y1="1019.4" x2="616.6" y2="1037.4" stroke="#a3c4dc" stroke-width="1.9"/>
<line x1="722.8000000000001" y1="938.2" x2="723.2" y2="950" stroke="#b0cde0" stroke-width="1.8"/>
<line x1="724.4" y1="993" x2="724.4" y2="1000" stroke="#b7d1e2" stroke-width="1.6"/>
<line x1="612.8000000000001" y1="954.8" x2="613.4000000000001" y2="970.8" stroke="#a9c8de" stroke-width="1.9"/>
<line x1="616.7" y1="1018.8" x2="619.7" y2="1036.8" stroke="#a3c4dc" stroke-width="1.9"/>
<line x1="725.4000000000001" y1="938.2" x2="725.8000000000001" y2="950" stroke="#b0cde0" stroke-width="1.8"/>
<line x1="726.8" y1="993" x2="726.8" y2="1000" stroke="#b7d1e2" stroke-width="1.6"/>
<text transform="translate(609.5 975) rotate(88)" font-size="9" fill="#c3dbea" font-weight="normal" textLength="42" lengthAdjust="spacingAndGlyphs">conpad</text>
<text transform="translate(721.5 953) rotate(89)" font-size="8.5" fill="#c9dfec" font-weight="normal" textLength="38" lengthAdjust="spacingAndGlyphs">conpad</text>
<rect x="499" y="1011" width="20" height="18" fill="#dcebe4" opacity="0.9" transform="rotate(-8 509 1020)" filter="url(#b1)"/>
<rect x="508" y="1106" width="22" height="17" fill="#e3ede9" opacity="0.9" transform="rotate(-8 519 1114)" filter="url(#b1)"/>
<rect x="855" y="970" width="22" height="22" fill="#f6f7f7" stroke="#e3e6e7" stroke-width="1" filter="url(#b1)"/>
<rect x="868" y="1048" width="7" height="20" fill="#f6f7f7" stroke="#e3e6e7" stroke-width="1" filter="url(#b1)"/>
</g>
<defs>
<linearGradient id="dropg" x1="0" y1="0" x2="0" y2="1"><stop offset="0" stop-color="#27a8e6"/><stop offset="1" stop-color="#86d6f6"/></linearGradient>
<linearGradient id="dropg2" x1="0" y1="0" x2="0" y2="1"><stop offset="0" stop-color="#2aa5e2"/><stop offset="1" stop-color="#62c3ef"/></linearGradient>
<radialGradient id="i2mid" cx="50%" cy="55%" r="60%"><stop offset="0" stop-color="#c4e4f8"/><stop offset="0.7" stop-color="#a6d6f3"/><stop offset="1" stop-color="#5ec0ee"/></radialGradient>
<linearGradient id="i4low" x1="0" y1="0" x2="0" y2="1"><stop offset="0" stop-color="#b9e1f8"/><stop offset="0.35" stop-color="#a6daf6"/><stop offset="1" stop-color="#2fb2ec"/></linearGradient>
<pattern id="dots" width="26" height="26" patternUnits="userSpaceOnUse"><rect width="26" height="26" fill="#86ccef"/><circle cx="7" cy="7" r="5" fill="#a9dcf5"/><circle cx="20" cy="20" r="5" fill="#a9dcf5"/></pattern>
</defs>
<g id="icons_a">
<g transform="translate(270 920) scale(0.12000)"><clipPath id="cp5"><rect x="389.0" y="169.0" width="727.0" height="722.0" rx="141.0"/></clipPath><rect x="389.0" y="169.0" width="727.0" height="722.0" rx="141.0" fill="#fff"/><g clip-path="url(#cp5)" stroke-linejoin="round" stroke-linecap="round"><rect x="380" y="160" width="760" height="760" fill="#fff"/><path d="M520 236 L1006 236" fill="none" stroke="#a9dcf5" stroke-width="6.0" /><polygon points="1006,236 1120,352 1120,430 1010,320" fill="#a6dcf6"/><path d="M1006 236 L1120 352" fill="none" stroke="#7fcbef" stroke-width="6.0" /><polygon points="392,320 1010,320 1120,430 1120,776 500,776 392,680" fill="#2cb3ee"/><polygon points="392,680 500,776 392,776" fill="#fff"/><path d="M392 690 L495 780 L1120 780" fill="none" stroke="#d6eefa" stroke-width="10.5" /><path d="M440 590 L392 490 L446 474 C470 420 520 392 565 402 C645 425 682 520 690 640 L620 648 C614 590 600 530 572 480 C556 455 530 455 512 498 L550 476 Z" transform="translate(0 0) scale(1.0)" fill="#fff" stroke="#1a3a7c" stroke-width="9.00" stroke-linejoin="round"/><path d="M440 590 L392 490 L446 474 C470 420 520 392 565 402 C645 425 682 520 690 640 L620 648 C614 590 600 530 572 480 C556 455 530 455 512 498 L550 476 Z" transform="translate(338 -58) scale(1.08)" fill="#fff" stroke="#1a3a7c" stroke-width="8.33" stroke-linejoin="round"/><path d="M440 590 L392 490 L446 474 C470 420 520 392 565 402 C645 425 682 520 690 640 L620 648 C614 590 600 530 572 480 C556 455 530 455 512 498 L550 476 Z" transform="translate(322 414) scale(0.62)" fill="#fff" stroke="#1a3a7c" stroke-width="14.52" stroke-linejoin="round"/><path d="M440 590 L392 490 L446 474 C470 420 520 392 565 402 C645 425 682 520 690 640 L620 648 C614 590 600 530 572 480 C556 455 530 455 512 498 L550 476 Z" transform="translate(627 404) scale(0.62)" fill="#fff" stroke="#1a3a7c" stroke-width="14.52" stroke-linejoin="round"/></g><rect x="389.0" y="169.0" width="727.0" height="722.0" rx="141.0" fill="none" stroke="#1a3a7c" stroke-width="18"/></g>
<circle cx="319.8" cy="942.8" r="13.7" fill="#ffffff" opacity="0.75"/><circle cx="319.8" cy="942.8" r="12.6" fill="#16357a"/><path d="M315.29 938.68 L320.60 935.07 L320.60 951.03" fill="none" stroke="#fff" stroke-width="2.0" stroke-linejoin="miter" stroke-miterlimit="6"/>
<g transform="translate(345 1165) scale(0.08000)"><clipPath id="cp6"><rect x="162.5" y="217.5" width="1110.0" height="1110.0" rx="219.5"/></clipPath><rect x="162.5" y="217.5" width="1110.0" height="1110.0" rx="219.5" fill="#fff"/><g clip-path="url(#cp6)" stroke-linejoin="round" stroke-linecap="round"><rect x="150" y="205" width="1140" height="1140" fill="#fff"/><circle cx="300" cy="455" r="55" fill="url(#dropg)" stroke="#7fd0f3" stroke-width="8"/><g transform="translate(612 395) rotate(12) scale(133.06 108.59)"><use href="#udrop" fill="url(#dropg)" stroke="#7fd0f3" stroke-width="0.060"/></g><g transform="translate(925 400) rotate(-14) scale(108.87 95.96)"><use href="#udrop" fill="url(#dropg)" stroke="#7fd0f3" stroke-width="0.073"/></g><g transform="translate(1150 555) rotate(-16) scale(112.90 95.96)"><use href="#udrop" fill="url(#dropg)" stroke="#7fd0f3" stroke-width="0.071"/></g><g transform="translate(415 600) rotate(28) scale(88.71 63.13)"><use href="#udrop" fill="url(#dropg)" stroke="#7fd0f3" stroke-width="0.090"/></g><g transform="translate(760 625) rotate(0) scale(84.68 85.86)"><use href="#udrop" fill="url(#dropg)" stroke="#7fd0f3" stroke-width="0.094"/></g><path d="M140 660 C400 700 600 722 760 720 C950 718 1150 700 1300 675 L1300 1140 L140 1140 Z" fill="#4fbdee"/><path d="M140 700 C400 738 600 758 760 756 C950 754 1150 738 1300 715 L1300 1030 C1100 1062 900 1078 740 1076 C560 1074 350 1052 140 1018 Z" fill="url(#i2mid)"/><path d="M140 660 C400 700 600 722 760 720 C950 718 1150 700 1300 675" fill="none" stroke="#2f9fd8" stroke-width="10.5" /><path d="M140 1022 C350 1056 560 1078 740 1080 C900 1082 1100 1066 1300 1034" fill="none" stroke="#2aa3e2" stroke-width="24.0" /><path d="M140 1082 C350 1112 560 1130 740 1132 C900 1132 1100 1120 1300 1092" fill="none" stroke="#259fe0" stroke-width="33.0" /><path d="M140 1095 C350 1125 560 1144 740 1146 C900 1146 1100 1134 1300 1106 L1300 1400 L140 1400 Z" fill="#c4e5f7"/><circle cx="520" cy="1210" r="42" fill="#ffffff" opacity="0.75"/><circle cx="690" cy="1180" r="48" fill="#ffffff" opacity="0.75"/><circle cx="830" cy="1165" r="40" fill="#ffffff" opacity="0.75"/><circle cx="960" cy="1235" r="44" fill="#ffffff" opacity="0.75"/><circle cx="1130" cy="1190" r="50" fill="#ffffff" opacity="0.75"/><circle cx="380" cy="1250" r="40" fill="#ffffff" opacity="0.75"/><circle cx="810" cy="1275" r="34" fill="#ffffff" opacity="0.75"/><circle cx="260" cy="1185" r="30" fill="#ffffff" opacity="0.75"/><circle cx="1050" cy="1290" r="30" fill="#ffffff" opacity="0.75"/><circle cx="620" cy="1290" r="30" fill="#ffffff" opacity="0.75"/><path d="M322 728 C290 790 240 820 170 838" fill="none" stroke="#14408a" stroke-width="42" stroke-linecap="butt"/><path d="M1118 728 C1150 790 1200 810 1285 818" fill="none" stroke="#14408a" stroke-width="42" stroke-linecap="butt"/><path d="M492 768 C450 860 370 898 285 910" fill="none" stroke="#14408a" stroke-width="44" stroke-linecap="butt"/><polygon points="0,0 -88,-44 -70,0 -88,44" fill="#14408a" transform="translate(212 916) rotate(176) scale(1.0)"/><path d="M682 768 C650 900 560 965 470 992" fill="none" stroke="#14408a" stroke-width="44" stroke-linecap="butt"/><polygon points="0,0 -88,-44 -70,0 -88,44" fill="#14408a" transform="translate(398 1003) rotate(170) scale(1.0)"/><path d="M762 768 C800 900 890 965 972 992" fill="none" stroke="#14408a" stroke-width="44" stroke-linecap="butt"/><polygon points="0,0 -88,-44 -70,0 -88,44" fill="#14408a" transform="translate(1042 1003) rotate(10) scale(1.0)"/><path d="M950 768 C1000 860 1080 898 1165 912" fill="none" stroke="#14408a" stroke-width="44" stroke-linecap="butt"/><polygon points="0,0 -88,-44 -70,0 -88,44" fill="#14408a" transform="translate(1238 920) rotate(4) scale(1.0)"/></g><rect x="162.5" y="217.5" width="1110.0" height="1110.0" rx="219.5" fill="none" stroke="#1a3a7c" stroke-width="25"/></g>
<circle cx="369" cy="1185.2" r="13.6" fill="#ffffff" opacity="0.75"/><circle cx="369" cy="1185.2" r="12.5" fill="#16357a"/><text transform="translate(369 1193.4) scale(1.0 1)" font-size="23" font-weight="normal" fill="#fff" text-anchor="middle">2</text>
<g transform="translate(522 1292) scale(0.08000)"><clipPath id="cp7"><rect x="200.5" y="192.5" width="1122.0" height="1120.0" rx="219.5"/></clipPath><rect x="200.5" y="192.5" width="1122.0" height="1120.0" rx="219.5" fill="#fff"/><g clip-path="url(#cp7)" stroke-linejoin="round" stroke-linecap="round"><rect x="180" y="170" width="1160" height="1170" fill="#fff"/><path d="M735 245 C700 320 590 440 580 520 L580 620 L890 620 L890 520 C880 440 770 320 735 245 Z" fill="url(#dropg2)"/><g transform="translate(1035 318) rotate(0) scale(189.52 151.52)"><use href="#udrop" fill="url(#dropg)" stroke="#7fd0f3" stroke-width="0.053"/></g><path d="M180 520 C400 555 600 578 760 578 C950 576 1150 560 1340 540 L1340 720 L180 720 Z" fill="url(#dots)"/><path d="M180 520 C400 555 600 578 760 578 C950 576 1150 560 1340 540" fill="none" stroke="#54b6e8" stroke-width="12.0" /><path d="M180 700 C400 728 600 742 760 742 C950 740 1150 726 1340 702 L1340 840 L180 840 Z" fill="#6cc4ef"/><path d="M180 708 C400 736 600 752 760 752 C950 750 1150 734 1340 710" fill="none" stroke="#2fa6e2" stroke-width="30" /><path d="M180 820 C400 832 600 838 760 838 C950 838 1150 830 1340 818" fill="none" stroke="#3fb0e8" stroke-width="21.0" /><rect x="180" y="836" width="1160" height="300" fill="#b4dcf4"/><path d="M700 836 L812 836 C830 950 880 1060 960 1130 L560 1130 C640 1060 690 950 700 836 Z" fill="#62bbe8"/><circle cx="395" cy="880" r="30" fill="#d9f2fc" opacity="0.85"/><circle cx="480" cy="900" r="36" fill="#d9f2fc" opacity="0.85"/><circle cx="530" cy="960" r="30" fill="#d9f2fc" opacity="0.85"/><circle cx="250" cy="870" r="22" fill="#d9f2fc" opacity="0.85"/><circle cx="700" cy="1075" r="34" fill="#d9f2fc" opacity="0.85"/><circle cx="790" cy="1095" r="30" fill="#d9f2fc" opacity="0.85"/><circle cx="760" cy="1010" r="24" fill="#d9f2fc" opacity="0.85"/><circle cx="735" cy="1135" r="26" fill="#d9f2fc" opacity="0.85"/><circle cx="1000" cy="975" r="34" fill="#d9f2fc" opacity="0.85"/><circle cx="1040" cy="885" r="28" fill="#d9f2fc" opacity="0.85"/><circle cx="1100" cy="880" r="24" fill="#d9f2fc" opacity="0.85"/><circle cx="960" cy="1135" r="26" fill="#d9f2fc" opacity="0.85"/><circle cx="1190" cy="900" r="22" fill="#d9f2fc" opacity="0.85"/><circle cx="740" cy="920" r="18" fill="#d9f2fc" opacity="0.85"/><path d="M180 1100 C400 1135 600 1150 760 1150 C950 1150 1150 1130 1340 1100 L1340 1400 L180 1400 Z" fill="#c3e4f7"/><path d="M180 1090 C400 1128 600 1142 760 1142 C950 1142 1150 1122 1340 1090" fill="none" stroke="#1a3a7c" stroke-width="12.0" stroke-dasharray="70 26"/><path d="M180 1170 C400 1215 600 1232 760 1232 C950 1232 1150 1210 1340 1170 L1340 1400 L180 1400 Z" fill="#ffffff"/><path d="M180 1170 C400 1215 600 1232 760 1232 C950 1232 1150 1210 1340 1170" fill="none" stroke="#8ccdee" stroke-width="12.0" /><path d="M570 832 L705 832 C700 1000 620 1105 440 1105 C400 1105 350 1082 330 1062 L250 1045 L275 880 L445 965 L392 990 C420 1040 470 1060 520 1060 C570 1000 575 920 570 832 Z" fill="#fff" stroke="#1a3a7c" stroke-width="11" stroke-linejoin="round"/><path d="M570 832 L705 832 C700 1000 620 1105 440 1105 C400 1105 350 1082 330 1062 L250 1045 L275 880 L445 965 L392 990 C420 1040 470 1060 520 1060 C570 1000 575 920 570 832 Z" fill="#fff" stroke="#1a3a7c" stroke-width="11" stroke-linejoin="round" transform="translate(1514 0) scale(-1 1)"/><path d="M555 740 L565 648 L700 640 L708 740 Z" fill="#fff" stroke="#1a3a7c" stroke-width="11" stroke-linejoin="round"/><path d="M805 740 L805 640 L950 648 L958 740 Z" fill="#fff" stroke="#1a3a7c" stroke-width="11" stroke-linejoin="round"/></g><rect x="200.5" y="192.5" width="1122.0" height="1120.0" rx="219.5" fill="none" stroke="#1a3a7c" stroke-width="25"/></g>
<circle cx="545.6" cy="1312.4" r="13.799999999999999" fill="#ffffff" opacity="0.75"/><circle cx="545.6" cy="1312.4" r="12.7" fill="#16357a"/><text transform="translate(545.6 1320.6000000000001) scale(1.0 1)" font-size="23" font-weight="normal" fill="#fff" text-anchor="middle">3</text>
<g transform="translate(720 1352) scale(0.08000)"><clipPath id="cp8"><rect x="197.5" y="190.5" width="1120.0" height="1122.0" rx="219.5"/></clipPath><rect x="197.5" y="190.5" width="1120.0" height="1122.0" rx="219.5" fill="#fff"/><g clip-path="url(#cp8)" stroke-linejoin="round" stroke-linecap="round"><rect x="180" y="170" width="1160" height="1170" fill="#fff"/><path d="M180 470 L300 440 L340 490 L410 440 L490 495 L570 440 L650 495 L730 445 L810 495 L890 440 L970 495 L1050 440 L1130 490 L1190 410 L1250 440 L1340 420 L1340 860 L180 860 Z" fill="#4dbcee"/><path d="M500 520 C650 545 850 545 1010 520 L1060 860 L440 860 Z" fill="#9bd5f4"/><path d="M180 470 L300 440 L340 490 L410 440 L490 495 L570 440 L650 495 L730 445 L810 495 L890 440 L970 495 L1050 440 L1130 490 L1190 410 L1250 440 L1340 420" fill="none" stroke="#9fdaf5" stroke-width="18.0" /><path d="M300 500 C500 545 950 545 1200 500" fill="none" stroke="#7fcdf1" stroke-width="15.0" /><path d="M180 760 C350 830 600 860 760 860 C950 858 1150 830 1340 770 L1340 1400 L180 1400 Z" fill="url(#i4low)"/><path d="M330 800 C480 845 640 862 760 862 C900 860 1050 845 1200 805" fill="none" stroke="#54b9e6" stroke-width="13.5" /><path d="M370 890 L1120 905" fill="none" stroke="#5fbde5" stroke-width="13.5" stroke-dasharray="60 40"/><path d="M640 940 C665 1050 682 1200 690 1330 M780 940 C802 1050 822 1200 832 1330 M1135 940 C1180 1050 1210 1150 1222 1230" fill="none" stroke="#1e5ea0" stroke-width="13.5" /><path d="M735 540 L730 640 M500 540 L505 600 M1000 545 L1005 610 M985 770 L985 850 M425 760 L425 810" fill="none" stroke="#63bfe8" stroke-width="9.0" /><path d="M705 1100 C740 880 640 600 490 598 C390 598 330 660 305 760 L292 688 L235 912 L335 880 L310 850 C335 760 410 690 488 690 C580 692 670 900 705 1100 Z" fill="#fff" stroke="#1a3a7c" stroke-width="11" stroke-linejoin="round"/><path d="M705 1100 C740 880 640 600 490 598 C390 598 330 660 305 760 L292 688 L235 912 L335 880 L310 850 C335 760 410 690 488 690 C580 692 670 900 705 1100 Z" fill="#fff" stroke="#1a3a7c" stroke-width="11" stroke-linejoin="round" transform="translate(528 12)"/></g><rect x="197.5" y="190.5" width="1120.0" height="1122.0" rx="219.5" fill="none" stroke="#1a3a7c" stroke-width="25"/></g>
<circle cx="738" cy="1372" r="14.2" fill="#ffffff" opacity="0.75"/><circle cx="738" cy="1372" r="13.1" fill="#16357a"/><text transform="translate(738 1380.2) scale(1.0 1)" font-size="23" font-weight="normal" fill="#fff" text-anchor="middle">4</text>
</g>
<defs>
<linearGradient id="i7g" x1="0" y1="0" x2="0" y2="1"><stop offset="0" stop-color="#5cc6f3"/><stop offset="0.25" stop-color="#8fd6f6"/><stop offset="0.5" stop-color="#b9e2f9"/><stop offset="0.78" stop-color="#8ed5f6"/><stop offset="1" stop-color="#52c2f1"/></linearGradient>
<linearGradient id="i6g" x1="0" y1="1" x2="1" y2="0"><stop offset="0" stop-color="#dbeefb"/><stop offset="0.5" stop-color="#c4e3f7"/><stop offset="1" stop-color="#9fd0f0"/></linearGradient>
<pattern id="dots5" width="44" height="44" patternUnits="userSpaceOnUse" patternTransform="rotate(-20)"><rect width="44" height="44" fill="#a9d9f4"/><circle cx="11" cy="11" r="8" fill="#8fcaee"/><circle cx="33" cy="33" r="8" fill="#8fcaee"/></pattern>
<filter id="zb30" x="-30%" y="-30%" width="160%" height="160%"><feGaussianBlur stdDeviation="28"/></filter>
<filter id="zb12" x="-30%" y="-30%" width="160%" height="160%"><feGaussianBlur stdDeviation="12"/></filter>
</defs>
<g id="icons_b">
<g transform="translate(910 1265) scale(0.08000)"><clipPath id="cp9"><rect x="192.5" y="187.5" width="1105.0" height="1105.0" rx="219.5"/></clipPath><rect x="192.5" y="187.5" width="1105.0" height="1105.0" rx="219.5" fill="#fff"/><g clip-path="url(#cp9)" stroke-linejoin="round" stroke-linecap="round"><rect x="170" y="170" width="1160" height="1160" fill="#fff"/><path d="M170 380 L215 395 L215 545 L745 1185 L790 1320 L170 1320 Z" fill="#b4dcf5"/><path d="M400 900 C470 960 520 970 560 940 M520 1190 C600 1170 660 1200 700 1240" fill="none" stroke="#c9e8f9" stroke-width="24.0" /><path d="M205 398 C380 370 560 300 690 235 L1188 882 C1050 900 900 980 775 1125 L742 1182 L215 545 Z" fill="url(#dots5)"/><path d="M215 545 L330 560 L600 880 L560 962 Z" fill="#4bbcee" opacity="0.85"/><path d="M600 880 L660 1000 C760 940 860 900 950 900 L940 840 C820 850 700 880 600 880 Z" fill="#3fb5ec" opacity="0.8"/><path d="M660 1000 C760 940 860 900 950 920 L1188 882 C1050 900 900 980 775 1125 L742 1182 Z" fill="#66c6f0" opacity="0.9"/><path d="M205 398 C380 370 560 300 690 235 L1188 882 C1050 900 900 980 775 1125 L742 1182 L790 1320" fill="none" stroke="#3aa9c9" stroke-width="10.5" /><path d="M215 545 L742 1182" fill="none" stroke="#58c5ec" stroke-width="12.0" /><path d="M600 620 L560 960 M665 480 L690 600 M840 640 L850 730 M930 850 L950 960" fill="none" stroke="#2f86c2" stroke-width="10.5" /><path d="M620 362 L732 298 L805 350 L692 408 Z" fill="#fff" stroke="#3a5a95" stroke-width="8"/><path d="M890 690 L1002 640 L1062 692 L942 742 Z" fill="#fff" stroke="#3a5a95" stroke-width="8"/><path d="M732 298 C800 250 885 280 922 362" fill="none" stroke="#3a4f86" stroke-width="12.0" /><path d="M805 350 C850 340 890 355 912 380" fill="none" stroke="#3a4f86" stroke-width="12.0" /><path d="M1002 640 C1080 600 1150 640 1192 712" fill="none" stroke="#3a4f86" stroke-width="12.0" /><path d="M1062 692 C1110 685 1150 705 1170 740" fill="none" stroke="#3a4f86" stroke-width="12.0" /><path d="M850 388 L925 372 L978 298" fill="none" stroke="#14408a" stroke-width="30" stroke-linecap="butt" stroke-linejoin="miter"/><path d="M1110 745 L1185 722 L1235 632" fill="none" stroke="#14408a" stroke-width="30" stroke-linecap="butt" stroke-linejoin="miter"/><path d="M955 522 C1020 520 1062 482 1088 438" fill="none" stroke="#14408a" stroke-width="32" stroke-linecap="butt"/><path d="M655 470 C600 560 520 598 440 603" fill="none" stroke="#14408a" stroke-width="46" stroke-linecap="round"/><polygon points="0,0 -95,-50 -72,0 -95,50" fill="#14408a" transform="translate(368 606) rotate(178) scale(1.0)"/><path d="M818 618 C760 720 650 768 545 772" fill="none" stroke="#14408a" stroke-width="50" stroke-linecap="round"/><polygon points="0,0 -95,-50 -72,0 -95,50" fill="#14408a" transform="translate(458 778) rotate(176) scale(1.1)"/><path d="M922 845 C790 830 660 900 612 1000" fill="none" stroke="#14408a" stroke-width="52" stroke-linecap="round"/><polygon points="0,0 -95,-50 -72,0 -95,50" fill="#14408a" transform="translate(540 1082) rotate(125) scale(1.15)"/></g><rect x="192.5" y="187.5" width="1105.0" height="1105.0" rx="219.5" fill="none" stroke="#1a3a7c" stroke-width="25"/></g>
<circle cx="928.4" cy="1283" r="13.9" fill="#ffffff" opacity="0.75"/><circle cx="928.4" cy="1283" r="12.8" fill="#16357a"/><text transform="translate(928.4 1291.2) scale(1.0 1)" font-size="23" font-weight="normal" fill="#fff" text-anchor="middle">5</text>
<g transform="translate(1048 1095) scale(0.08000)"><clipPath id="cp10"><rect x="187.5" y="177.5" width="1120.0" height="1120.0" rx="219.5"/></clipPath><rect x="187.5" y="177.5" width="1120.0" height="1120.0" rx="219.5" fill="#fff"/><g clip-path="url(#cp10)" stroke-linejoin="round" stroke-linecap="round"><rect x="160" y="160" width="1180" height="1170" fill="#fff"/><path d="M790 190 L620 400 L600 452 L640 562 L700 762 L820 1022 L1005 1065 L1035 1150 L1160 1150 L1230 1300 L1340 1300 L1340 190 Z" fill="url(#i6g)"/><path d="M930 572 L1320 540 L1320 1135 L1032 1152 Z" fill="#dbeffb"/><path d="M930 572 L1320 540 M930 572 L1032 1152 L1320 1135" fill="none" stroke="#3c8fa8" stroke-width="10.5" /><path d="M790 190 L620 400 L600 452 L640 562 L700 762 L820 1022 L1005 1065" fill="none" stroke="#4a9db5" stroke-width="9.0" /><path d="M1150 1150 L1210 1240" fill="none" stroke="#4a9db5" stroke-width="9.0" /><path d="M622 548 C700 450 780 380 822 345 L852 372 L872 492 C800 562 720 652 692 762 L662 902 L592 872 C540 800 560 650 622 548 Z" fill="#fff" opacity="0.92"/><path d="M622 548 C700 450 780 380 822 345 L852 372 L872 492 C800 562 720 652 692 762 L662 902" fill="none" stroke="#2a4275" stroke-width="10.5" /><path d="M622 548 C560 650 540 800 592 872" fill="none" stroke="#2a4275" stroke-width="10.5" /><path d="M635 545 C660 640 690 700 705 720" fill="none" stroke="#2a4275" stroke-width="12.0" /><path d="M205 890 C300 820 420 780 545 742 M560 860 C480 880 420 900 390 920 L285 1080 L300 1180 L330 1230 M390 1020 L480 1010 L520 960 M390 1020 L350 1130 L440 1135 C470 1090 490 1050 520 960 L590 900 M690 905 C650 960 610 1000 580 1030 L600 1060 L650 1080 C640 1150 600 1230 570 1290 M650 1080 C680 1100 670 1150 620 1170 M300 1180 C350 1220 400 1180 440 1135" fill="none" stroke="#6a9aa8" stroke-width="9.0" /><path d="M600 905 L700 915 L650 1075 L585 1035 Z" fill="#e4f5fc" opacity="0.8"/><path d="M300 1180 L440 1135 L350 1250 Z" fill="#cfeaf8" opacity="0.8"/><path d="M705 882 L762 822 C850 880 960 870 1022 790 L988 772 L1072 690 L1078 838 L1045 815 C980 920 830 945 705 882 Z" fill="#14408a"/></g><rect x="187.5" y="177.5" width="1120.0" height="1120.0" rx="219.5" fill="none" stroke="#1a3a7c" stroke-width="25"/></g>
<circle cx="1070.8" cy="1116.2" r="13.9" fill="#ffffff" opacity="0.75"/><circle cx="1070.8" cy="1116.2" r="12.8" fill="#16357a"/><text transform="translate(1070.8 1124.4) scale(1.0 1)" font-size="23" font-weight="normal" fill="#fff" text-anchor="middle">6</text>
<g transform="translate(1003 862) scale(0.08000)"><clipPath id="cp11"><rect x="192.5" y="190.5" width="1130.0" height="1122.0" rx="219.5"/></clipPath><rect x="192.5" y="190.5" width="1130.0" height="1122.0" rx="219.5" fill="#fff"/><g clip-path="url(#cp11)" stroke-linejoin="round" stroke-linecap="round"><rect x="170" y="170" width="1180" height="1170" fill="#fff"/><path d="M395 190 L1135 190 C1050 350 980 550 980 750 C980 930 1050 1100 1215 1235 L1215 1330 L300 1330 L300 1240 C440 1100 540 930 540 750 C540 550 480 350 395 190 Z" fill="url(#i7g)"/><path d="M540 250 L1000 250 C950 350 930 450 930 520 L610 520 C610 450 590 350 540 250 Z" fill="#4cc1f3" opacity="0.7" filter="url(#zb30)"/><rect x="480" y="1060" width="540" height="215" rx="90" fill="#4cc2f3" opacity="0.8" filter="url(#zb30)"/><path d="M300 1240 C340 1180 420 1130 470 1120 L470 1330 L300 1330 Z M1215 1235 C1170 1180 1090 1130 1040 1120 L1040 1330 L1215 1330 Z" fill="#b9e4f8" opacity="0.9" filter="url(#zb12)"/><path d="M395 190 C480 350 540 550 540 750 C540 930 440 1100 300 1240" fill="none" stroke="#d9f4fd" stroke-width="36" /><path d="M1135 190 C1050 350 980 550 980 750 C980 930 1050 1100 1215 1235" fill="none" stroke="#d9f4fd" stroke-width="36" /><path d="M372 300 C462 420 520 580 520 750 C520 900 470 1040 372 1120 C330 1160 310 1200 290 1245" fill="none" stroke="#7f99a8" stroke-width="9.0" /><path d="M1165 250 C1060 400 1000 580 1000 750 C1000 900 1050 1040 1150 1120 C1180 1150 1200 1190 1218 1230" fill="none" stroke="#7f99a8" stroke-width="9.0" /><path d="M757 240 L757 1260" fill="none" stroke="#0f4a8c" stroke-width="40" stroke-dasharray="75 112" stroke-linecap="butt"/></g><rect x="192.5" y="190.5" width="1130.0" height="1122.0" rx="219.5" fill="none" stroke="#1a3a7c" stroke-width="25"/></g>
<circle cx="1021" cy="880" r="14.2" fill="#ffffff" opacity="0.75"/><circle cx="1021" cy="880" r="13.1" fill="#16357a"/><text transform="translate(1021 888.2) scale(1.0 1)" font-size="23" font-weight="normal" fill="#fff" text-anchor="middle">7</text>
</g>
<g id="labels">
<text x="295.3" y="1063.9" font-size="15.5" font-weight="normal" fill="#44566f" textLength="123.0" lengthAdjust="spacingAndGlyphs" stroke="#44566f" stroke-width="0.45">Islaklığı ve kokuyu</text>
<text x="280.1" y="1088.1" font-size="15.5" font-weight="normal" fill="#44566f" textLength="153.9" lengthAdjust="spacingAndGlyphs" stroke="#44566f" stroke-width="0.45">hapseden emici tabaka</text>
<text x="336.0" y="1302.7" font-size="15.5" font-weight="normal" fill="#44566f" textLength="132.4" lengthAdjust="spacingAndGlyphs" stroke="#44566f" stroke-width="0.45">Dengeli sıvı dağılımı</text>
<text x="511.2" y="1424.8" font-size="15.5" font-weight="normal" fill="#44566f" textLength="141.6" lengthAdjust="spacingAndGlyphs" stroke="#44566f" stroke-width="0.45">Yoğunluğu arttırılmış</text>
<text x="539.2" y="1448.8" font-size="15.5" font-weight="normal" fill="#44566f" textLength="85.6" lengthAdjust="spacingAndGlyphs" stroke="#44566f" stroke-width="0.45">emici tabaka</text>
<text x="704.0" y="1484.0" font-size="15.5" font-weight="normal" fill="#44566f" textLength="148.0" lengthAdjust="spacingAndGlyphs" stroke="#44566f" stroke-width="0.45">Sızma önleyici bariyer</text>
<text x="912.0" y="1394.0" font-size="15.5" font-weight="normal" fill="#44566f" textLength="112.8" lengthAdjust="spacingAndGlyphs" stroke="#44566f" stroke-width="0.45">Nefes alan yüzey</text>
<text x="988.3" y="994.0" font-size="15.5" font-weight="normal" fill="#44566f" textLength="145.0" lengthAdjust="spacingAndGlyphs" stroke="#44566f" stroke-width="0.45">Bez değişim zamanını</text>
<text x="972.7" y="1018.3" font-size="15.5" font-weight="normal" fill="#44566f" textLength="176.3" lengthAdjust="spacingAndGlyphs" stroke="#44566f" stroke-width="0.45">bildiren ıslaklık göstergesi</text>
<text x="1024.0" y="1226.0" font-size="15.5" font-weight="normal" fill="#44566f" textLength="167.7" lengthAdjust="spacingAndGlyphs" stroke="#44566f" stroke-width="0.45">Defalarca yapıştırılabilen</text>
<text x="1069.3" y="1250.0" font-size="15.5" font-weight="normal" fill="#44566f" textLength="76.7" lengthAdjust="spacingAndGlyphs" stroke="#44566f" stroke-width="0.45">yan bantlar</text>
</g>
</svg>
</body></html>
